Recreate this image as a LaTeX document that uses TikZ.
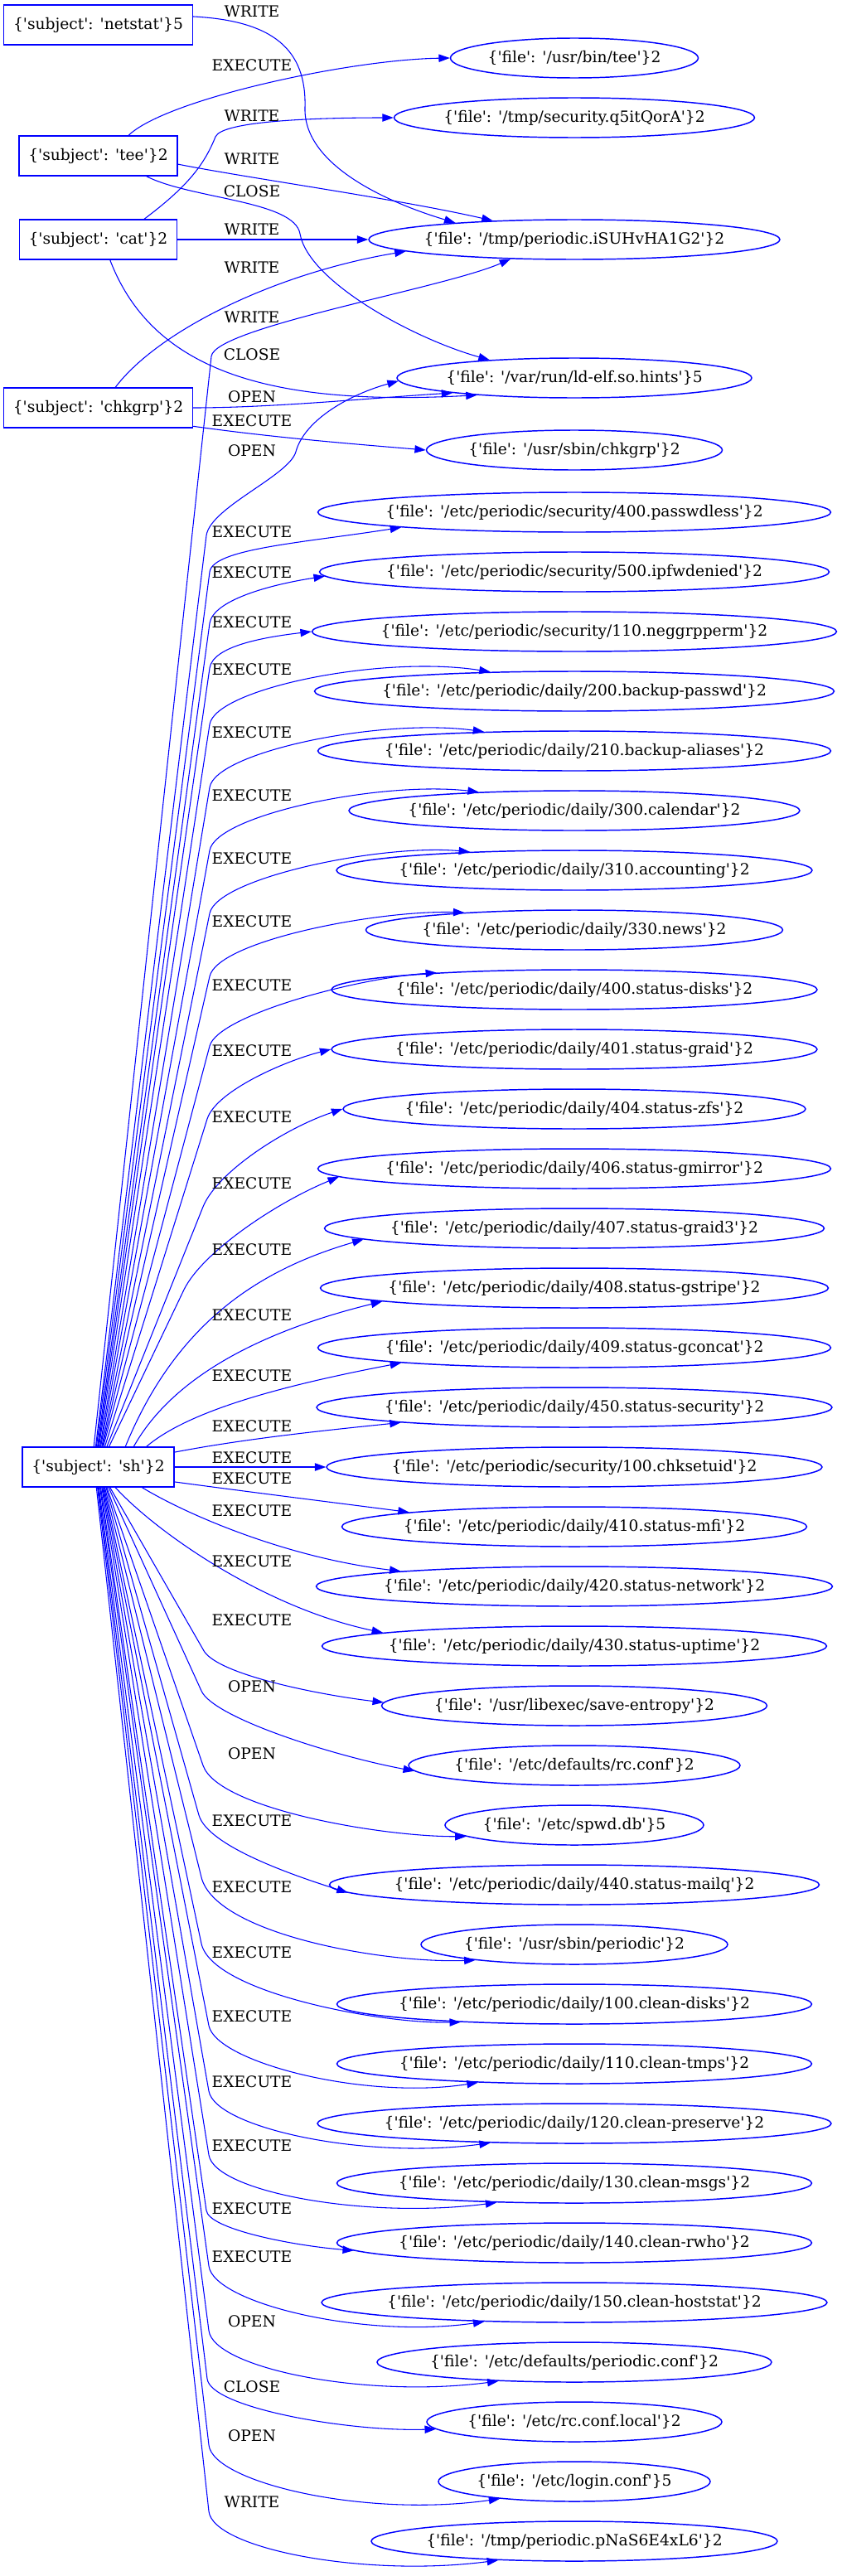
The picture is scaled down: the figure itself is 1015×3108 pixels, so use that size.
\documentclass[tikz,border=0pt]{standalone}
\usepackage{fontspec}
\newfontfamily\dvs{DejaVu Serif}
\usetikzlibrary{shapes.geometric,arrows.meta}

\newcommand\lbl{\dvs\fontsize{14pt}{17pt}\selectfont}
\newcommand\stext[2]{\{'subject': '#1'\}#2}
\newcommand\ftext[2]{\{'file': '#1'\}#2}
% name, y, width (px), path, count
\newcommand\filenode[5]{%
  \node[file, minimum width=#3*0.75pt] (#1) at (693,#2) {\ftext{#4}{#5}};}

\tikzset{
  subj/.style={draw=blue, line width=1.1pt, minimum height=36pt, inner xsep=8.5pt, inner ysep=0pt},
  file/.style={draw=blue, ellipse, line width=1.1pt, minimum height=36pt, inner xsep=-20pt, inner ysep=0pt},
  edge/.style={draw=blue, line width=0.8pt, -{Triangle[length=10pt,width=7pt]}},
  act/.style={inner sep=0pt}
}

\begin{document}
\begin{tikzpicture}[x=0.75pt, y=-0.75pt, every node/.style={font=\lbl}]
\useasboundingbox (0,0) rectangle (1015,3108);

% subjects
\node[subj] (netstat) at (118.5,30) {\stext{netstat}{5}};
\node[subj] (tee) at (118.5,188) {\stext{tee}{2}};
\node[subj] (cat) at (118.5,289) {\stext{cat}{2}};
\node[subj] (chkgrp) at (118.5,492) {\stext{chkgrp}{2}};
\node[subj] (sh) at (118.5,1770) {\stext{sh}{2}};

% files
\filenode{ftee}{70}{299}{/usr/bin/tee}{2}
\filenode{fsec}{142}{435}{/tmp/security.q5itQorA}{2}
\filenode{fper}{289}{496}{/tmp/periodic.iSUHvHA1G2}{2}
\filenode{fld}{456}{428}{/var/run/ld-elf.so.hints}{5}
\filenode{fchk}{543}{357}{/usr/sbin/chkgrp}{2}
\filenode{f1}{618}{619}{/etc/periodic/security/400.passwdless}{2}
\filenode{f2}{690}{615}{/etc/periodic/security/500.ipfwdenied}{2}
\filenode{f3}{762}{633}{/etc/periodic/security/110.neggrpperm}{2}
\filenode{f4}{834}{627}{/etc/periodic/daily/200.backup-passwd}{2}
\filenode{f5}{906}{619}{/etc/periodic/daily/210.backup-aliases}{2}
\filenode{f6}{978}{544}{/etc/periodic/daily/300.calendar}{2}
\filenode{f7}{1050}{574}{/etc/periodic/daily/310.accounting}{2}
\filenode{f8}{1122}{503}{/etc/periodic/daily/330.news}{2}
\filenode{f9}{1194}{586}{/etc/periodic/daily/400.status-disks}{2}
\filenode{f10}{1266}{586}{/etc/periodic/daily/401.status-graid}{2}
\filenode{f11}{1338}{558}{/etc/periodic/daily/404.status-zfs}{2}
\filenode{f12}{1410}{619}{/etc/periodic/daily/406.status-gmirror}{2}
\filenode{f13}{1482}{603}{/etc/periodic/daily/407.status-graid3}{2}
\filenode{f14}{1554}{613}{/etc/periodic/daily/408.status-gstripe}{2}
\filenode{f15}{1626}{619}{/etc/periodic/daily/409.status-gconcat}{2}
\filenode{f16}{1698}{622}{/etc/periodic/daily/450.status-security}{2}
\filenode{f17}{1770}{598}{/etc/periodic/security/100.chksetuid}{2}
\filenode{f18}{1842}{561}{/etc/periodic/daily/410.status-mfi}{2}
\filenode{f19}{1914}{623}{/etc/periodic/daily/420.status-network}{2}
\filenode{f20}{1986}{609}{/etc/periodic/daily/430.status-uptime}{2}
\filenode{f21}{2058}{465}{/usr/libexec/save-entropy}{2}
\filenode{f22}{2130}{400}{/etc/defaults/rc.conf}{2}
\filenode{f23}{2202}{312}{/etc/spwd.db}{5}
\filenode{f24}{2274}{591}{/etc/periodic/daily/440.status-mailq}{2}
\filenode{f25}{2346}{370}{/usr/sbin/periodic}{2}
\filenode{f26}{2418}{573}{/etc/periodic/daily/100.clean-disks}{2}
\filenode{f27}{2490}{573}{/etc/periodic/daily/110.clean-tmps}{2}
\filenode{f28}{2562}{620}{/etc/periodic/daily/120.clean-preserve}{2}
\filenode{f29}{2634}{573}{/etc/periodic/daily/130.clean-msgs}{2}
\filenode{f30}{2706}{573}{/etc/periodic/daily/140.clean-rwho}{2}
\filenode{f31}{2778}{610}{/etc/periodic/daily/150.clean-hoststat}{2}
\filenode{f32}{2850}{476}{/etc/defaults/periodic.conf}{2}
\filenode{f33}{2922}{356}{/etc/rc.conf.local}{2}
\filenode{f34}{2994}{328}{/etc/login.conf}{5}
\filenode{f35}{3066}{490}{/tmp/periodic.pNaS6E4xL6}{2}

% edges of the small subjects
\draw[edge] (netstat.5) .. controls (330,25) and (370,60) .. (368,130) .. controls (366,200) and (470,245) .. (fper.172);
\draw[edge] (tee.34) .. controls (200,120) and (420,72) .. (ftee.west);
\draw[edge] (cat.24) .. controls (225,226) and (246,200) .. (260,165) .. controls (268,146) and (380,142) .. (fsec.west);
\draw[edge] (tee.-6) .. controls (300,215) and (480,240) .. (fper.167);
\draw[edge] (tee.-23) .. controls (230,240) and (355,242) .. (362,282) .. controls (372,340) and (500,409) .. (fld.168);
\draw[edge] (cat.east) -- (fper.west);
\draw[edge] (chkgrp.50) .. controls (190,400) and (330,330) .. (fper.184);
\draw[edge] (sh.102) -- (255,430) .. controls (259,395) and (535,348) .. (fper.197);
\draw[edge] (cat.-60) .. controls (185,450) and (330,490) .. (fld.190);
\draw[edge] (chkgrp.east) .. controls (330,492) and (450,480) .. (fld.187);
\draw[edge] (chkgrp.-11) .. controls (330,528) and (430,536) .. (fchk.west);
\draw[edge] (sh.97) -- (249,646) .. controls (254,612) and (349,574) .. (357,545) .. controls (368,505) and (425,475) .. (fld.181);

% edges of sh, upwards
\draw[edge] (sh.95) -- (253,690) .. controls (257,662) and (365,655) .. (f1.185);
\draw[edge] (sh.92) -- (253,752) .. controls (257,725) and (322,706) .. (f2.181);
\draw[edge] (sh.90) -- (253,806) .. controls (257,780) and (316,769) .. (f3.west);
\draw[edge] (sh.88) -- (253,874) .. controls (260,831) and (460,790) .. (f4.167);
\draw[edge] (sh.85) -- (253,950) .. controls (260,907) and (460,866) .. (f5.168);
\draw[edge] (sh.83) -- (253,1026) .. controls (261,983) and (460,942) .. (f6.169);
\draw[edge] (sh.80) -- (253,1102) .. controls (262,1059) and (460,1018) .. (f7.170);
\draw[edge] (sh.78) -- (253,1178) .. controls (263,1135) and (455,1098) .. (f8.171);
\draw[edge] (sh.76) -- (253,1262) .. controls (263,1225) and (430,1180) .. (f9.173);
\draw[edge] (sh.72) -- (250,1350) .. controls (261,1316) and (344,1280) .. (f10.west);
\draw[edge] (sh.67) -- (245,1456) .. controls (262,1414) and (344,1361) .. (f11.west);
\draw[edge] (sh.62) -- (222,1556) .. controls (244,1511) and (333,1451) .. (f12.182);
\draw[edge] (sh.37) .. controls (215,1590) and (320,1530) .. (f13.183);
\draw[edge] (sh.30) .. controls (215,1650) and (340,1600) .. (f14.184);
\draw[edge] (sh.23) .. controls (230,1700) and (350,1670) .. (f15.185);
\draw[edge] (sh.11) .. controls (300,1735) and (400,1725) .. (f16.185);
\draw[edge] (sh.east) -- (f17.west);

% edges of sh, downwards
\draw[edge] (sh.-11) .. controls (300,1800) and (420,1815) .. (f18.175);
\draw[edge] (sh.-25) .. controls (230,1830) and (350,1880) .. (f19.175);
\draw[edge] (sh.-50) .. controls (190,1850) and (320,1940) .. (f20.176);
\draw[edge] (sh.-60) -- (245,1990) .. controls (259,2020) and (386,2045) .. (f21.179);
\draw[edge] (sh.-63) -- (243,2040) .. controls (257,2072) and (400,2118) .. (f22.182);
\draw[edge] (sh.-67) -- (245,2130) .. controls (263,2182) and (459,2216) .. (f23.186);
\draw[edge] (sh.-69) -- (240,2190) .. controls (251,2228) and (358,2264) .. (f24.182);
\draw[edge] (sh.-72) -- (243,2265) .. controls (260,2333) and (461,2369) .. (f25.189);
\draw[edge] (sh.-74) -- (243,2345) .. controls (256,2404) and (459,2442) .. (f26.189);
\draw[edge] (sh.-76) -- (252,2444) .. controls (261,2488) and (440,2534) .. (f27.191);
\draw[edge] (sh.-78) -- (252,2523) .. controls (260,2567) and (440,2606) .. (f28.193);
\draw[edge] (sh.-80) -- (252,2600) .. controls (259,2644) and (440,2678) .. (f29.194);
\draw[edge] (sh.-83) -- (249,2667) .. controls (252,2689) and (350,2709) .. (f30.182);
\draw[edge] (sh.-85) -- (252,2734) .. controls (258,2779) and (440,2822) .. (f31.192);
\draw[edge] (sh.-88) -- (252,2812) .. controls (258,2857) and (440,2894) .. (f32.194);
\draw[edge] (sh.-90) -- (250,2870) .. controls (254,2905) and (420,2934) .. (f33.183);
\draw[edge] (sh.-92) -- (252,2950) .. controls (257,2995) and (440,3038) .. (f34.193);
\draw[edge] (sh.-95) -- (252,3030) .. controls (257,3075) and (440,3110) .. (f35.194);

% edge labels
\node[act] (t1) at (304,14) {WRITE};
\node[act] (t2) at (304,79) {EXECUTE};
\node[act] (t3) at (304,140) {WRITE};
\node[act] (t4) at (304,192) {WRITE};
\node[act] (t5) at (304,231) {CLOSE};
\node[act] (t6) at (304,277) {WRITE};
\node[act] (t7) at (304,323) {WRITE};
\node[act] (t8) at (304,383) {WRITE};
\node[act] (t9) at (304,428) {CLOSE};
\node[act] (t10) at (304,479) {OPEN};
\node[act] (t11) at (304,508) {EXECUTE};
\node[act] (t12) at (304,544) {OPEN};
\node[act] (l1) at (304,642) {EXECUTE};
\node[act] (l2) at (304,691) {EXECUTE};
\node[act] (l3) at (304,751) {EXECUTE};
\node[act] (l4) at (304,808) {EXECUTE};
\node[act] (l5) at (304,884) {EXECUTE};
\node[act] (l6) at (304,960) {EXECUTE};
\node[act] (l7) at (304,1036) {EXECUTE};
\node[act] (l8) at (304,1112) {EXECUTE};
\node[act] (l9) at (304,1189) {EXECUTE};
\node[act] (l10) at (304,1268) {EXECUTE};
\node[act] (l11) at (304,1348) {EXECUTE};
\node[act] (l12) at (304,1428) {EXECUTE};
\node[act] (l13) at (304,1508) {EXECUTE};
\node[act] (l14) at (304,1587) {EXECUTE};
\node[act] (l15) at (304,1660) {EXECUTE};
\node[act] (l16) at (304,1721) {EXECUTE};
\node[act] (l17) at (304,1759) {EXECUTE};
\node[act] (l18) at (304,1784) {EXECUTE};
\node[act] (l19) at (304,1823) {EXECUTE};
\node[act] (l20) at (304,1884) {EXECUTE};
\node[act] (l21) at (304,1955) {EXECUTE};
\node[act] (l22) at (304,2035) {OPEN};
\node[act] (l23) at (304,2116) {OPEN};
\node[act] (l24) at (304,2197) {EXECUTE};
\node[act] (l25) at (304,2277) {EXECUTE};
\node[act] (l26) at (304,2356) {EXECUTE};
\node[act] (l27) at (304,2433) {EXECUTE};
\node[act] (l28) at (304,2512) {EXECUTE};
\node[act] (l29) at (304,2589) {EXECUTE};
\node[act] (l30) at (304,2665) {EXECUTE};
\node[act] (l31) at (304,2723) {EXECUTE};
\node[act] (l32) at (304,2801) {OPEN};
\node[act] (l33) at (304,2880) {CLOSE};
\node[act] (l34) at (304,2939) {OPEN};
\node[act] (l35) at (304,3019) {WRITE};
\end{tikzpicture}
\end{document}
